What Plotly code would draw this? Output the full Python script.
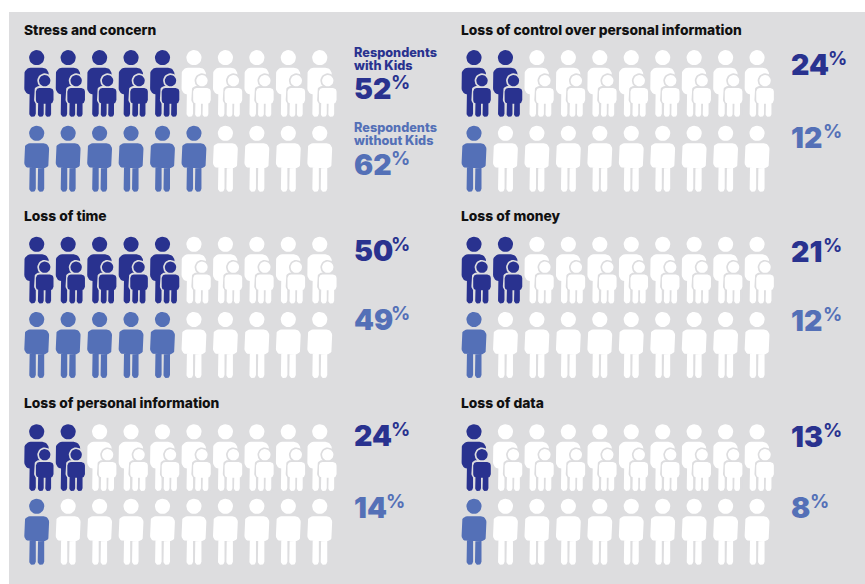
import math
import plotly.graph_objects as go

titles = ["Stress and concern", "Loss of control over personal information", "Loss of time",
          "Loss of money", "Loss of personal information", "Loss of data"]
with_kids = [52, 24, 50, 21, 24, 13]
without_kids = [62, 12, 49, 12, 14, 8]

DARK, LIGHT, BG = "#29328F", "#5470B7", "#DDDDDF"
WHITE = "#FFFFFF"
FONT = "Inter"
ICONS = 10
PITCH = 31.45
X0 = {0: 36.7, 1: 474.0}
ROWS = [(57.7, 133.3, 30), (244.3, 319.5, 216), (431.8, 506.3, 403)]
NUM_X = {0: 352, 1: 789}
NUM_Y = [(88, 164), (250, 319), (435, 507)]
NUM_Y_R = [(64, 137), (251, 320), (436, 507)]


def circle(cx, cy, r):
    n = 28
    return ([cx + r * math.cos(2 * math.pi * i / n) for i in range(n + 1)],
            [cy + r * math.sin(2 * math.pi * i / n) for i in range(n + 1)])


def rrect(x0, y0, x1, y1, r):
    xs, ys = [], []
    for cx, cy, a in [(x1 - r, y0 + r, -90), (x1 - r, y1 - r, 0), (x0 + r, y1 - r, 90), (x0 + r, y0 + r, 180)]:
        for k in range(7):
            t = math.radians(a + 15 * k)
            xs.append(cx + r * math.cos(t))
            ys.append(cy + r * math.sin(t))
    xs.append(xs[0]); ys.append(ys[0])
    return xs, ys


class Bag:
    def __init__(self):
        self.x, self.y = [], []

    def add(self, p):
        self.x += p[0] + [None]
        self.y += p[1] + [None]


bags = {}


def bag(layer, colour):
    return bags.setdefault((layer, colour), Bag())


def adult(cx, hy, colour, layer=0):
    b = bag(layer, colour)
    b.add(circle(cx, hy, 7.6))
    b.add(rrect(cx - 12.4, hy + 10, cx + 12.4, hy + 35, 5.6))
    b.add(rrect(cx - 7.4, hy + 28, cx - 0.9, hy + 58.6, 3.2))
    b.add(rrect(cx + 1.0, hy + 28, cx + 7.5, hy + 58.6, 3.2))


def parent_kid(cx, hy, colour):
    b = bag(0, colour)
    b.add(circle(cx, hy, 7.6))
    b.add(rrect(cx - 12.4, hy + 10, cx + 12, hy + 37, 6.5))
    b.add(rrect(cx - 7.4, hy + 28, cx - 0.9, hy + 59.2, 3.2))
    halo = bag(1, BG)
    kx, ky = cx + 8, hy + 23
    halo.add(circle(kx, ky, 7.4))
    halo.add(rrect(kx - 10.6, ky + 5.4, kx + 10.6, ky + 24, 5))
    halo.add(rrect(kx - 8.6, ky + 16, kx + 8.6, ky + 38, 3.2))
    k = bag(2, colour)
    k.add(circle(kx, ky, 5.7))
    k.add(rrect(kx - 8.8, ky + 7.2, kx + 8.8, ky + 23, 3.6))
    k.add(rrect(kx - 6.8, ky + 17, kx - 1.0, ky + 36.2, 2.7))
    k.add(rrect(kx + 0.6, ky + 17, kx + 6.4, ky + 36.2, 2.7))


annotations = []


def text(x, y, s, size, colour, weight=800):
    annotations.append(dict(x=x, y=y, xref="x", yref="y", text=s, showarrow=False, xanchor="left", yanchor="middle",
                            align="left", font=dict(family=FONT, size=size, color=colour, weight=weight)))


def number(x, y, v, colour):
    s = str(v)
    text(x, y, s, 28.5, colour, 900)
    width = sum(13.0 if c == "1" else 18.2 for c in s)
    text(x + width + 1, y - 5.5, "%", 19, colour, 700)


for i, t in enumerate(titles):
    col, row = i % 2, i // 2
    x0 = X0[col]
    hy1, hy2, ty = ROWS[row]
    text(x0 - 14.7, ty, t, 13.8, "#111111")
    n1, n2 = round(with_kids[i] / 10), round(without_kids[i] / 10)
    for j in range(ICONS):
        cx = x0 + PITCH * j
        parent_kid(cx, hy1, DARK if j < n1 else WHITE)
        adult(cx, hy2, LIGHT if j < n2 else WHITE)
    ny = (NUM_Y if col == 0 else NUM_Y_R)[row]
    number(NUM_X[col], ny[0], with_kids[i], DARK)
    number(NUM_X[col], ny[1], without_kids[i], LIGHT)

text(352, 52, "Respondents", 12.7, DARK)
text(352, 65, "with Kids", 12.7, DARK)
text(352, 127, "Respondents", 12.7, LIGHT)
text(352, 140, "without Kids", 12.7, LIGHT)

fig = go.Figure()
for key in sorted(bags, key=lambda k: k[0]):
    b = bags[key]
    fig.add_trace(go.Scatter(x=b.x, y=b.y, mode="lines", fill="toself", fillcolor=key[1],
                             line=dict(width=0, color=key[1]), hoverinfo="skip", showlegend=False))

fig.update_layout(width=865, height=584, margin=dict(l=0, r=0, t=0, b=0), paper_bgcolor=WHITE, plot_bgcolor=WHITE,
                  xaxis=dict(range=[0, 865], visible=False, fixedrange=True),
                  yaxis=dict(range=[584, 0], visible=False, fixedrange=True),
                  annotations=annotations,
                  shapes=[dict(type="rect", xref="x", yref="y", x0=9, x1=865, y0=12, y1=584, fillcolor=BG,
                               line_width=0, layer="below")])
fig.write_html("out.html", post_script="document.body.style.margin='0';document.documentElement.style.overflow='hidden';",
               config={"displayModeBar": False})
